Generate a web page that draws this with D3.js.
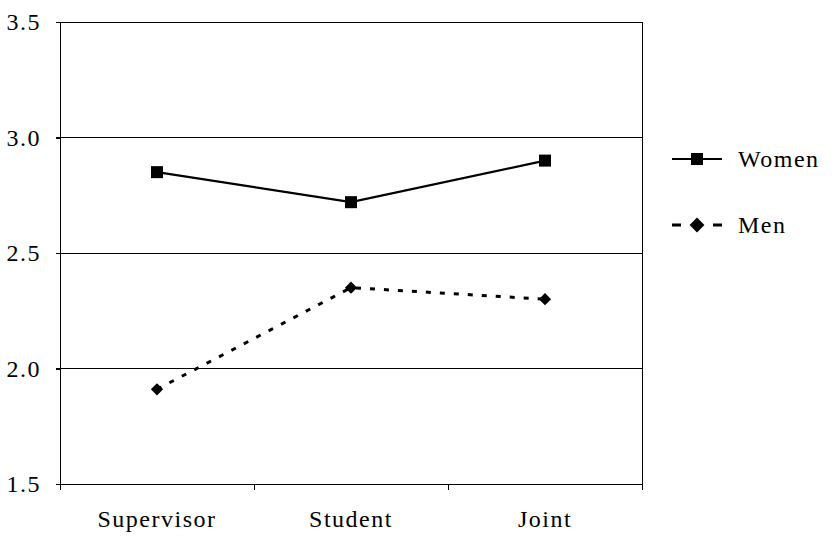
<!DOCTYPE html>
<html><head><meta charset="utf-8">
<script src="https://cdn.jsdelivr.net/npm/d3@7"></script>
<style>body{margin:0;background:#fff}svg text{font-family:'Liberation Serif',serif !important;fill:#000;font-size:24px;letter-spacing:1.5px}</style>
</head><body><svg id="c" width="836" height="536"></svg>
<script>
const categories = ["Supervisor", "Student", "Joint"];
const women = [2.85, 2.72, 2.90];
const men = [1.91, 2.35, 2.30];
const yTicks = [1.5, 2.0, 2.5, 3.0, 3.5];
const seriesNames = ["Women", "Men"];

const svg = d3.select("#c");
const L = 60, R = 642, T = 22, B = 484;
const x = d3.scaleBand().domain(categories).range([L, R]);
const y = d3.scaleLinear().domain([1.5, 3.5]).range([B, T]);

// gridlines
svg.append("g").selectAll("line").data(yTicks.filter(d => d > 1.5)).join("line")
  .attr("x1", L - 4).attr("x2", R).attr("y1", d => y(d)).attr("y2", d => y(d))
  .attr("stroke", "#000").attr("stroke-width", 1).attr("shape-rendering", "crispEdges");
// right border
svg.append("line").attr("x1", R).attr("x2", R).attr("y1", T).attr("y2", B + 6)
  .attr("stroke", "#000").attr("shape-rendering", "crispEdges");

// y axis
const ya = svg.append("g").attr("transform", `translate(${L},0)`)
  .call(d3.axisLeft(y).tickValues(yTicks).tickFormat(d3.format(".1f")).tickSize(4).tickPadding(15));
ya.attr("font-family", null).attr("font-size", null);
ya.select(".domain").attr("d", `M-4,${y(3.5)}H0V${B + 6}`);
ya.selectAll("path,line").attr("shape-rendering", "crispEdges");

// x axis
const xa = svg.append("g").attr("transform", `translate(0,${B})`)
  .call(d3.axisBottom(x).tickSize(0).tickPadding(26));
xa.attr("font-family", null).attr("font-size", null);
xa.select(".domain").remove();
svg.append("line").attr("x1", L).attr("x2", R).attr("y1", B).attr("y2", B).attr("stroke", "#000").attr("shape-rendering", "crispEdges");
const bounds = [L, ...categories.map(c => x(c) + x.bandwidth())];
svg.append("g").selectAll("line").data(bounds).join("line")
  .attr("x1", d => d).attr("x2", d => d).attr("y1", B).attr("y2", B + 6)
  .attr("stroke", "#000").attr("shape-rendering", "crispEdges");

const cx = c => x(c) + x.bandwidth() / 2;
const line = d3.line().x((d, i) => cx(categories[i])).y(d => y(d));

svg.append("path").datum(women).attr("d", line).attr("fill", "none").attr("stroke", "#000").attr("stroke-width", 2.2);
svg.append("path").datum(men).attr("d", line).attr("fill", "none").attr("stroke", "#000").attr("stroke-width", 3).attr("stroke-dasharray", "5,9");

svg.append("g").selectAll("rect").data(women).join("rect")
  .attr("x", (d, i) => cx(categories[i]) - 6).attr("y", d => y(d) - 6).attr("width", 12).attr("height", 12);
const diamond = d3.symbol().type(d3.symbolSquare).size(75);
svg.append("g").selectAll("path").data(men).join("path")
  .attr("d", diamond)
  .attr("transform", (d, i) => `translate(${cx(categories[i])},${y(d)}) rotate(45)`);

// legend
const lg = svg.append("g");
const ly = [159, 225];
lg.append("line").attr("x1", 672).attr("x2", 722).attr("y1", ly[0]).attr("y2", ly[0]).attr("stroke", "#000").attr("stroke-width", 2.2);
lg.append("rect").attr("x", 691).attr("y", ly[0] - 6).attr("width", 12).attr("height", 12);
lg.append("line").attr("x1", 672).attr("x2", 722).attr("y1", ly[1]).attr("y2", ly[1]).attr("stroke", "#000").attr("stroke-width", 3).attr("stroke-dasharray", "9,32");
lg.append("path").attr("d", d3.symbol().type(d3.symbolSquare).size(110)).attr("transform", `translate(697,${ly[1]}) rotate(45)`);
lg.selectAll("text").data(seriesNames).join("text")
  .attr("x", 738).attr("y", (d, i) => ly[i]).attr("dy", "0.35em").text(d => d);
</script></body></html>
